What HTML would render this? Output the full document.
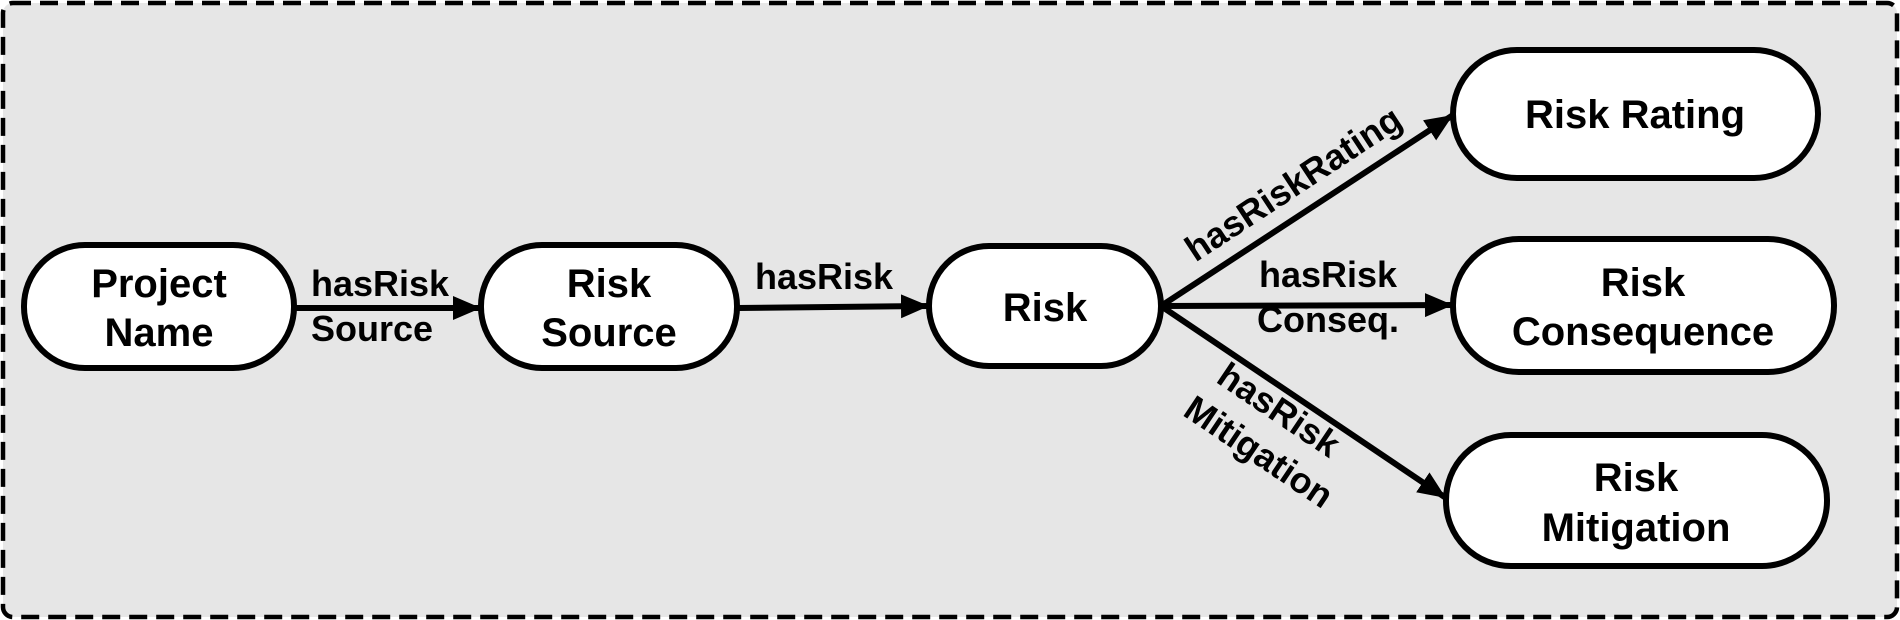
<!DOCTYPE html>
<html><head><style>body{margin:0;background:#fff}svg{display:block}</style></head><body>
<svg width="1900" height="620" xmlns="http://www.w3.org/2000/svg" font-family="Liberation Sans, Arial, sans-serif" font-weight="bold">
<defs>
<marker id="b" viewBox="0 0 10 10" refX="10" refY="5" markerWidth="28" markerHeight="24" orient="auto" markerUnits="userSpaceOnUse" preserveAspectRatio="none"><path d="M0,0 L10,5 L0,10 z" fill="#000"/></marker></defs>
<rect x="3" y="3" width="1894" height="614" rx="10" fill="#e6e6e6" stroke="#000" stroke-width="4.5" stroke-dasharray="18,9"/>
<g stroke="#000" stroke-width="6" fill="#fff">
<rect x="24" y="245" width="270" height="123" rx="61"/>
<rect x="481" y="245" width="256" height="123" rx="61"/>
<rect x="929" y="246" width="232" height="120" rx="60"/>
<rect x="1453" y="50" width="365" height="128" rx="64"/>
<rect x="1453" y="239" width="381" height="133" rx="66"/>
<rect x="1446" y="435" width="381" height="131" rx="65"/>
</g>
<g stroke="#000" stroke-width="6" marker-end="url(#b)">
<line x1="294" y1="308" x2="481" y2="308"/>
<line x1="737" y1="308" x2="929" y2="306"/>
<line x1="1161" y1="306" x2="1453" y2="115"/>
<line x1="1161" y1="306" x2="1453" y2="305"/>
<line x1="1161" y1="306" x2="1446" y2="498"/>
</g>
<g font-size="40" text-anchor="middle" fill="#000">
<text x="159" y="297">Project</text><text x="159" y="346">Name</text>
<text x="609" y="297">Risk</text><text x="609" y="346">Source</text>
<text x="1045" y="321">Risk</text>
<text x="1635" y="128">Risk Rating</text>
<text x="1643" y="296">Risk</text><text x="1643" y="345">Consequence</text>
<text x="1636" y="491">Risk</text><text x="1636" y="541">Mitigation</text>
</g>
<g font-size="36" text-anchor="middle" fill="#000">
<text x="380" y="296">hasRisk</text><text x="372" y="341">Source</text>
<text x="824" y="289">hasRisk</text>
<text x="1328" y="287">hasRisk</text><text x="1328" y="332">Conseq.</text>
<text transform="translate(1300,194) rotate(-33.3)">hasRiskRating</text>
<text transform="translate(1272,420) rotate(33.9)">hasRisk</text>
<text transform="translate(1252,462) rotate(33.9)">Mitigation</text>
</g>
</svg>
</body></html>
